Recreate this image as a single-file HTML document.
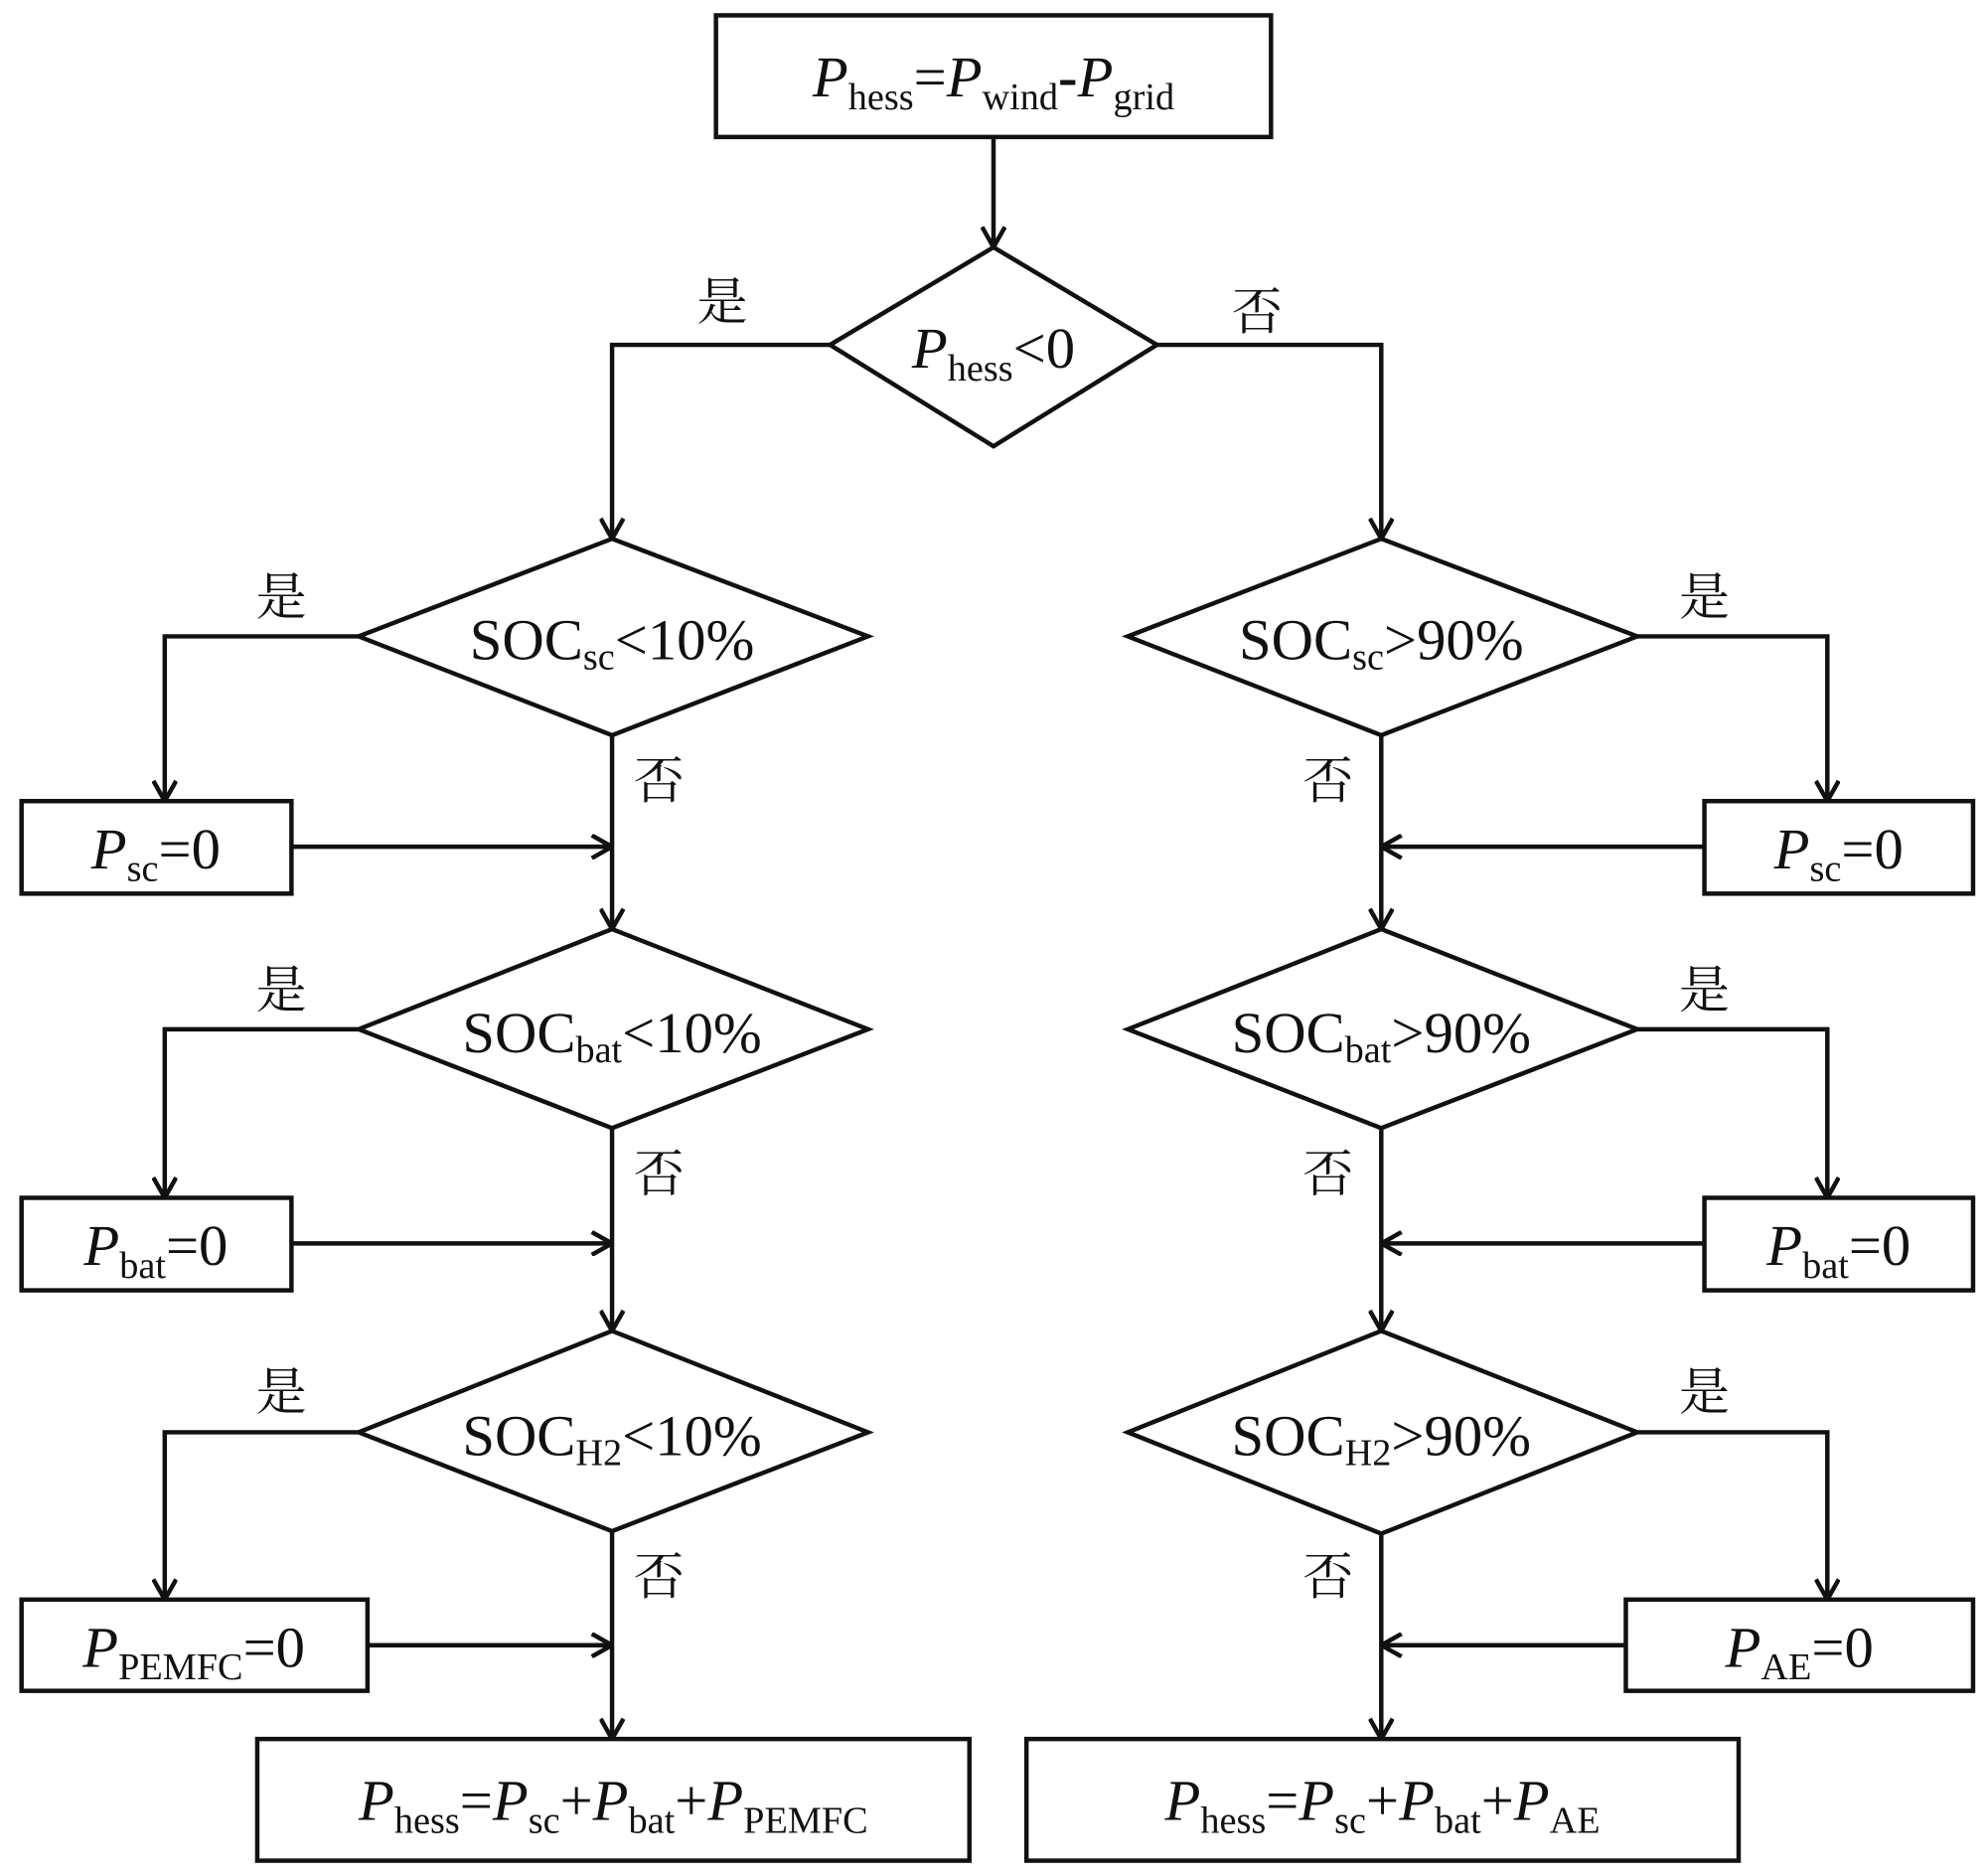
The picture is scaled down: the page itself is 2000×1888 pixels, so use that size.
<!DOCTYPE html>
<html><head><meta charset="utf-8"><style>
html,body{margin:0;padding:0;background:#fff;}
svg{display:block;}
text{font-family:"Liberation Serif","Noto Serif CJK SC",serif;fill:#111;}
.t{font-size:46px;}
.s{font-size:30px;}
.cj{font-size:40px;font-family:"Liberation Serif","Noto Serif CJK SC","Noto Sans CJK SC",serif;}
</style></head><body>
<svg width="2000" height="1888" viewBox="0 0 1568 1480" xmlns="http://www.w3.org/2000/svg">
<defs>
<marker id="a" viewBox="0 0 20 20" refX="19" refY="10" markerWidth="20" markerHeight="20" markerUnits="userSpaceOnUse" orient="auto">
<path d="M3,1 L19,10 L3,19" fill="none" stroke="#111" stroke-width="3.5"/>
</marker>
</defs>
<g fill="none" stroke="#111" stroke-width="3.5">
<rect x="565" y="12" width="438" height="96"/>
<polygon points="784,195 913,272 784,352 655,272"/>
<polygon points="483,425 685,502 483,580 283,502"/>
<polygon points="1090,425 1292,502 1090,580 890,502"/>
<polygon points="483,733 685,812 483,890 283,812"/>
<polygon points="1090,733 1292,812 1090,890 890,812"/>
<polygon points="483,1050 685,1130 483,1208 283,1130"/>
<polygon points="1090,1050 1292,1130 1090,1210 890,1130"/>
<rect x="17" y="632" width="213" height="73"/>
<rect x="17" y="945" width="213" height="73"/>
<rect x="17" y="1262" width="273" height="72"/>
<rect x="1345" y="632" width="212" height="73"/>
<rect x="1345" y="945" width="212" height="73"/>
<rect x="1283" y="1262" width="274" height="72"/>
<rect x="203" y="1372" width="562" height="96"/>
<rect x="810" y="1372" width="562" height="96"/>
</g>
<g fill="none" stroke="#111" stroke-width="3.5" marker-end="url(#a)">
<path d="M784,108 V195"/>
<path d="M655,272 H483 V425"/>
<path d="M913,272 H1090 V425"/>
<path d="M283,502 H130 V632"/>
<path d="M1292,502 H1442 V632"/>
<path d="M283,812 H130 V945"/>
<path d="M1292,812 H1442 V945"/>
<path d="M283,1130 H130 V1262"/>
<path d="M1292,1130 H1442 V1262"/>
<path d="M483,580 V733"/>
<path d="M483,890 V1050"/>
<path d="M483,1208 V1372"/>
<path d="M1090,580 V733"/>
<path d="M1090,890 V1050"/>
<path d="M1090,1210 V1372"/>
<path d="M230,668 H483"/>
<path d="M230,981 H483"/>
<path d="M290,1298 H483"/>
<path d="M1345,668 H1090"/>
<path d="M1345,981 H1090"/>
<path d="M1283,1298 H1090"/>
</g>
<g>
<text class="cj" x="550" y="252">是</text>
<text class="cj" x="972" y="260">否</text>
<text class="cj" x="202" y="485">是</text>
<text class="cj" x="1325" y="485">是</text>
<text class="cj" x="500" y="630">否</text>
<text class="cj" x="1028" y="630">否</text>
<text class="cj" x="202" y="795">是</text>
<text class="cj" x="1325" y="795">是</text>
<text class="cj" x="500" y="940">否</text>
<text class="cj" x="1028" y="940">否</text>
<text class="cj" x="202" y="1112">是</text>
<text class="cj" x="1325" y="1112">是</text>
<text class="cj" x="500" y="1258">否</text>
<text class="cj" x="1028" y="1258">否</text>
</g>
<g class="t">
<text x="784" y="76" text-anchor="middle" class="t"><tspan font-style="italic">P</tspan><tspan class="s" dy="10">hess</tspan><tspan dy="-10">=</tspan><tspan font-style="italic">P</tspan><tspan class="s" dy="10">wind</tspan><tspan dy="-10" font-weight="bold">-</tspan><tspan font-style="italic">P</tspan><tspan class="s" dy="10">grid</tspan></text>
<text x="784" y="290" text-anchor="middle" class="t"><tspan font-style="italic">P</tspan><tspan class="s" dy="10">hess</tspan><tspan dy="-10">&lt;0</tspan></text>
<text x="483" y="520" text-anchor="middle" class="t">SOC<tspan class="s" dy="8">sc</tspan><tspan dy="-8">&lt;10%</tspan></text>
<text x="1090" y="520" text-anchor="middle" class="t">SOC<tspan class="s" dy="8">sc</tspan><tspan dy="-8">&gt;90%</tspan></text>
<text x="483" y="830" text-anchor="middle" class="t">SOC<tspan class="s" dy="8">bat</tspan><tspan dy="-8">&lt;10%</tspan></text>
<text x="1090" y="830" text-anchor="middle" class="t">SOC<tspan class="s" dy="8">bat</tspan><tspan dy="-8">&gt;90%</tspan></text>
<text x="483" y="1148" text-anchor="middle" class="t">SOC<tspan class="s" dy="8">H2</tspan><tspan dy="-8">&lt;10%</tspan></text>
<text x="1090" y="1148" text-anchor="middle" class="t">SOC<tspan class="s" dy="8">H2</tspan><tspan dy="-8">&gt;90%</tspan></text>
<text x="123" y="685" text-anchor="middle" class="t"><tspan font-style="italic">P</tspan><tspan class="s" dy="10">sc</tspan><tspan dy="-10">=0</tspan></text>
<text x="123" y="998" text-anchor="middle" class="t"><tspan font-style="italic">P</tspan><tspan class="s" dy="10">bat</tspan><tspan dy="-10">=0</tspan></text>
<text x="153" y="1315" text-anchor="middle" class="t"><tspan font-style="italic">P</tspan><tspan class="s" dy="10">PEMFC</tspan><tspan dy="-10">=0</tspan></text>
<text x="1451" y="685" text-anchor="middle" class="t"><tspan font-style="italic">P</tspan><tspan class="s" dy="10">sc</tspan><tspan dy="-10">=0</tspan></text>
<text x="1451" y="998" text-anchor="middle" class="t"><tspan font-style="italic">P</tspan><tspan class="s" dy="10">bat</tspan><tspan dy="-10">=0</tspan></text>
<text x="1420" y="1315" text-anchor="middle" class="t"><tspan font-style="italic">P</tspan><tspan class="s" dy="10">AE</tspan><tspan dy="-10">=0</tspan></text>
<text x="484" y="1436" text-anchor="middle" class="t"><tspan font-style="italic">P</tspan><tspan class="s" dy="10">hess</tspan><tspan dy="-10">=</tspan><tspan font-style="italic">P</tspan><tspan class="s" dy="10">sc</tspan><tspan dy="-10">+</tspan><tspan font-style="italic">P</tspan><tspan class="s" dy="10">bat</tspan><tspan dy="-10">+</tspan><tspan font-style="italic">P</tspan><tspan class="s" dy="10">PEMFC</tspan></text>
<text x="1091" y="1436" text-anchor="middle" class="t"><tspan font-style="italic">P</tspan><tspan class="s" dy="10">hess</tspan><tspan dy="-10">=</tspan><tspan font-style="italic">P</tspan><tspan class="s" dy="10">sc</tspan><tspan dy="-10">+</tspan><tspan font-style="italic">P</tspan><tspan class="s" dy="10">bat</tspan><tspan dy="-10">+</tspan><tspan font-style="italic">P</tspan><tspan class="s" dy="10">AE</tspan></text>
</g>
</svg>
</body></html>
